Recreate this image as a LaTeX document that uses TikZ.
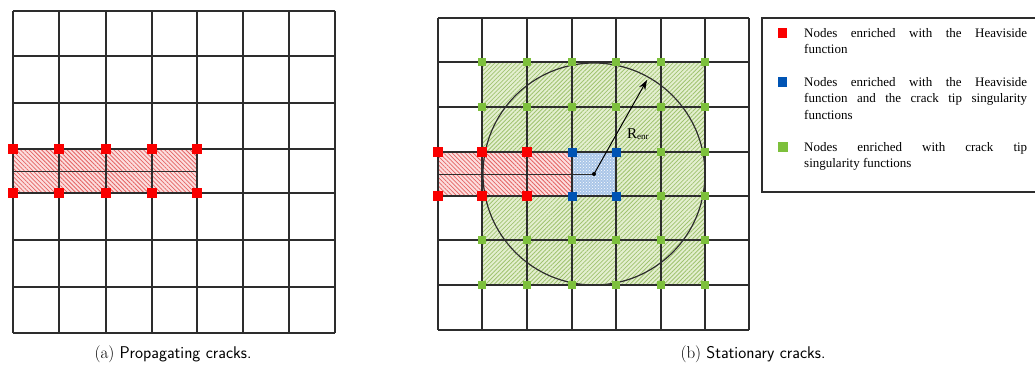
\documentclass[tikz,border=0pt]{standalone}
\usepackage{fontspec}
\newfontfamily\legfont{Liberation Serif}
\usetikzlibrary{patterns,patterns.meta,arrows.meta}
\definecolor{gridc}{RGB}{45,45,45}
\definecolor{nred}{RGB}{250,0,0}
\definecolor{nblue}{RGB}{0,84,180}
\definecolor{ngreen}{RGB}{125,192,60}
\definecolor{redfill}{RGB}{252,222,222}
\definecolor{redhatch}{RGB}{228,100,100}
\definecolor{greenfill}{RGB}{228,239,208}
\definecolor{greenhatch}{RGB}{160,195,112}
\definecolor{bluefill}{RGB}{170,198,232}
\tolerance=10000
\hbadness=10000
\begin{document}
\begin{tikzpicture}[x=1pt,y=-1pt,
  gridline/.style={draw=gridc, line width=1.05pt},
  sq/.style={rectangle, inner sep=0pt, minimum size=#1},
  rnode/.style={sq=10pt, fill=nred},
  bnode/.style={sq=9pt, fill=nblue},
  gnode/.style={sq=8.5pt, fill=ngreen},
  legtext/.style={anchor=north west, inner sep=0pt, text width=223pt, align=justify,
    font=\legfont\fontsize{13}{16.7}\selectfont},
  captext/.style={anchor=base, inner sep=0pt, font=\fontsize{17}{20}\selectfont}
]
\path[use as bounding box] (0,0) rectangle (1035,367);

% ---------------- (a) propagating cracks ----------------
\path[fill=redfill] (13,149) rectangle (197,193);
\path[pattern={Lines[angle=-45,distance=3pt,line width=0.8pt]}, pattern color=redhatch] (13,149) rectangle (197,193);
\foreach \x in {13,59,106,152,197,243,289,335} \draw[gridline] (\x,11) -- (\x,333);
\foreach \y in {11,56,103,149,193,240,287,333} \draw[gridline] (13,\y) -- (335,\y);
\coordinate (la) at (13,171);
\coordinate (lb) at (197,171);
\draw[gridc, line width=0.8pt] (la) -- (lb);
\foreach \x in {13,59,106,152,197} {
  \node[rnode] (ra-\x-t) at (\x,149) {};
  \node[rnode] (ra-\x-b) at (\x,193) {};
}
\node[captext] (capa) at (173,358) {(a) {\sffamily Propagating cracks.}};

% ---------------- (b) stationary cracks ----------------
\path[fill=greenfill] (482,62) rectangle (705,285);
\path[pattern={Lines[angle=45,distance=3pt,line width=0.8pt]}, pattern color=greenhatch] (482,62) rectangle (705,285);
\path[fill=redfill] (438,152) rectangle (572,196);
\path[pattern={Lines[angle=-45,distance=3pt,line width=0.8pt]}, pattern color=redhatch] (438,152) rectangle (572,196);
\path[fill=bluefill] (572,152) rectangle (616,196);
\path[pattern=crosshatch dots, pattern color=white] (572,152) rectangle (616,196);
\foreach \x in {438,482,527,572,616,661,705,749} \draw[gridline] (\x,18) -- (\x,330);
\foreach \y in {18,62,107,152,196,240,285,330} \draw[gridline] (438,\y) -- (749,\y);
\coordinate (ctr) at (594,174);
\coordinate (cl) at (438,174);
\coordinate (atip) at (647,80);
\draw[gridc, line width=1pt] (cl) -- (ctr);
\draw[gridc, line width=1.2pt] (ctr) circle [radius=111pt];
\draw[black, line width=1pt, -{Stealth[length=10pt,width=7pt]}] (ctr) -- (atip);
\fill[black] (ctr) circle [radius=2pt];
\node[inner sep=0pt, anchor=base west, font=\legfont\fontsize{15}{17}\selectfont] (renr) at (627,138)
  {R\raisebox{-0.15ex}{\fontsize{9}{10}\selectfont enr}};
\foreach \x in {482,527,572,616,661,705} {
  \foreach \y in {62,107,240,285} {
    \node[gnode] (g-\x-\y) at (\x,\y) {};
  }
}
\foreach \x in {661,705} {
  \foreach \y in {152,196} {
    \node[gnode] (g-\x-\y) at (\x,\y) {};
  }
}
\foreach \x in {438,482,527} {
  \foreach \y in {152,196} {
    \node[rnode, sq=9.5pt] (rb-\x-\y) at (\x,\y) {};
  }
}
\foreach \x in {572,616} {
  \foreach \y in {152,196} {
    \node[bnode] (bb-\x-\y) at (\x,\y) {};
  }
}
\node[captext] (capb) at (753,358) {(b) {\sffamily Stationary cracks.}};

% ---------------- legend ----------------
\draw[gridc, line width=1.1pt] (1036,18) -- (762,18) -- (762,192) -- (1036,192);
\node[sq=9.5pt, fill=nred] (lr) at (782.5,33) {};
\node[sq=9.5pt, fill=nblue] (lbl) at (782.5,82) {};
\node[sq=9.5pt, fill=ngreen] (lg) at (783,147) {};
\node[legtext] (t1) at (804,28) {Nodes enriched with the Heaviside\linebreak function};
\node[legtext] (t2) at (804,77) {Nodes enriched with the Heaviside\linebreak function and the crack tip singularity\linebreak functions};
\node[legtext] (t3) at (804,142) {Nodes enriched with crack tip\linebreak singularity functions};
\end{tikzpicture}
\end{document}
